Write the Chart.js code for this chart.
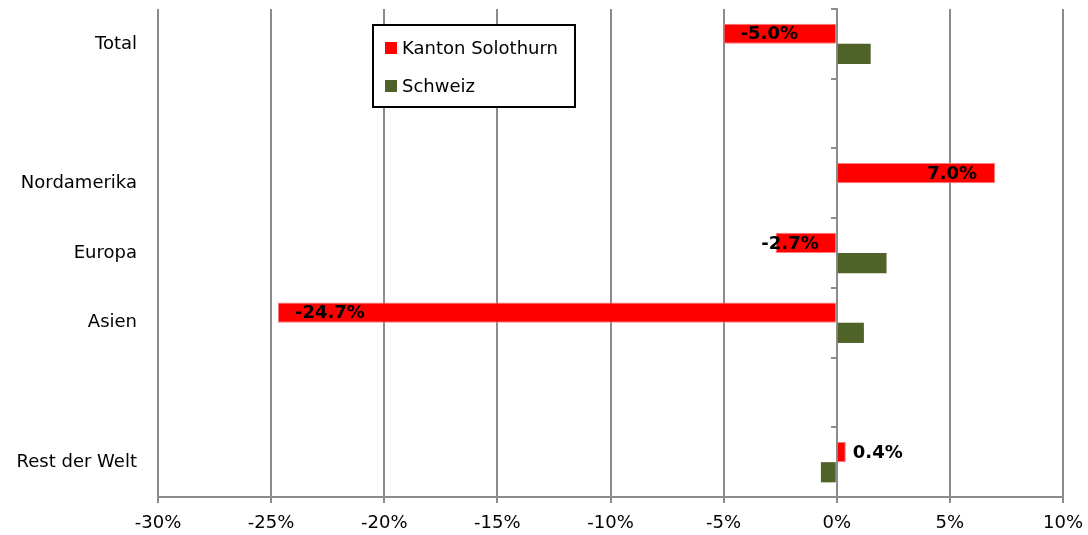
<!DOCTYPE html>
<html>
<head>
<meta charset="utf-8">
<script src="https://cdn.jsdelivr.net/npm/chart.js@4/dist/chart.umd.min.js"></script>
<style>
  html, body { margin: 0; padding: 0; background: #fff; }
  #wrap { width: 1088px; height: 535px; }
</style>
</head>
<body>
<div id="wrap"><canvas id="chart" width="1088" height="535"></canvas></div>
<script>
// categories (empty strings leave the spacer rows)
var regions = ['Total', '', 'Nordamerika', 'Europa', 'Asien', '', 'Rest der Welt'];
// change in percent
var kantonSolothurn = [-5.0, null, 7.0, -2.7, -24.7, null, 0.4];
var schweiz = [1.5, null, 0.05, 2.2, 1.2, null, -0.7];

var xMin = -30, xMax = 10, xStep = 5;

var gridGray = '#8c8c8c';
Chart.defaults.font.family = '"DejaVu Sans", Verdana, sans-serif';
Chart.defaults.font.size = 18;
Chart.defaults.color = '#000';

// bold value labels on the Kanton bars
var valueLabels = {
    id: 'valueLabels',
    afterDatasetsDraw: function (chart) {
        var ctx = chart.ctx;
        var meta = chart.getDatasetMeta(0);
        ctx.save();
        ctx.font = 'bold 18px "DejaVu Sans", Verdana, sans-serif';
        ctx.fillStyle = '#000';
        ctx.textBaseline = 'middle';
        ctx.textAlign = 'left';
        meta.data.forEach(function (bar, i) {
            var v = kantonSolothurn[i];
            if (v === null) return;
            var txt = v.toFixed(1) + '%';
            var w = ctx.measureText(txt).width;
            var len = Math.abs(bar.x - bar.base);
            var left;
            if (len < 20) {
                // too short: put it outside the end
                left = v >= 0 ? bar.x + 7 : bar.x - 7 - w;
            } else if (v < 0) {
                left = Math.min(bar.x + 17, bar.base - 17 - w);
            } else {
                left = Math.max(bar.x - 18 - w, bar.base + 17);
            }
            ctx.fillText(txt, left, bar.y + 1);
        });
        ctx.restore();
    }
};

// boxed legend inside the plot
var boxLegend = {
    id: 'boxLegend',
    afterDraw: function (chart) {
        var ctx = chart.ctx;
        var area = chart.chartArea;
        var left = area.left + 215, top = area.top + 16;
        var width = 202, height = 82;
        ctx.save();
        ctx.fillStyle = '#fff';
        ctx.fillRect(left, top, width, height);
        ctx.lineWidth = 2;
        ctx.strokeStyle = '#000';
        ctx.strokeRect(left, top, width, height);
        ctx.font = '18px "DejaVu Sans", Verdana, sans-serif';
        ctx.textBaseline = 'middle';
        chart.data.datasets.forEach(function (ds, i) {
            var cy = top + 23 + i * 38;
            ctx.fillStyle = ds.backgroundColor;
            ctx.fillRect(left + 12, cy - 6, 12, 12);
            ctx.fillStyle = '#000';
            ctx.fillText(ds.label, left + 29, cy + 1);
        });
        ctx.restore();
    }
};

new Chart(document.getElementById('chart'), {
    type: 'bar',
    data: {
        labels: regions,
        datasets: [
            {
                label: 'Kanton Solothurn',
                data: kantonSolothurn,
                backgroundColor: '#ff0000',
                borderColor: '#ff7a7a',
                borderWidth: 1
            },
            {
                label: 'Schweiz',
                data: schweiz,
                backgroundColor: '#4f6228'
            }
        ]
    },
    options: {
        indexAxis: 'y',
        responsive: false,
        animation: false,
        categoryPercentage: 0.58,
        barPercentage: 1,
        layout: { padding: { top: 9, right: 25, left: 0, bottom: 0 } },
        plugins: {
            legend: { display: false },
            tooltip: { enabled: false }
        },
        scales: {
            x: {
                min: xMin,
                max: xMax,
                afterFit: function (scale) {
                    scale.height = 38;
                    scale.paddingLeft = 0;
                    scale.paddingRight = 0;
                },
                ticks: {
                    stepSize: xStep,
                    padding: 10,
                    callback: function (v) { return v + '%'; }
                },
                grid: {
                    color: gridGray,
                    lineWidth: 2,
                    tickLength: 6
                },
                border: { color: gridGray, width: 2 }
            },
            y: {
                type: 'category',
                position: 'left',
                afterFit: function (scale) {
                    scale.width = 158;
                    scale.paddingTop = 0;
                    scale.paddingBottom = 0;
                },
                ticks: { padding: 21, autoSkip: false },
                grid: { display: false, drawTicks: false },
                border: { display: false }
            },
            // category axis crossing at 0% with small tick marks
            y2: {
                type: 'category',
                position: { x: 0 },
                offset: true,
                afterFit: function (scale) {
                    scale.paddingTop = 0;
                    scale.paddingBottom = 0;
                },
                ticks: { display: false },
                grid: {
                    offset: true,
                    drawOnChartArea: false,
                    color: gridGray,
                    lineWidth: 2,
                    tickLength: 5
                },
                border: { color: gridGray, width: 2 }
            }
        }
    },
    plugins: [valueLabels, boxLegend]
});
</script>
</body>
</html>
